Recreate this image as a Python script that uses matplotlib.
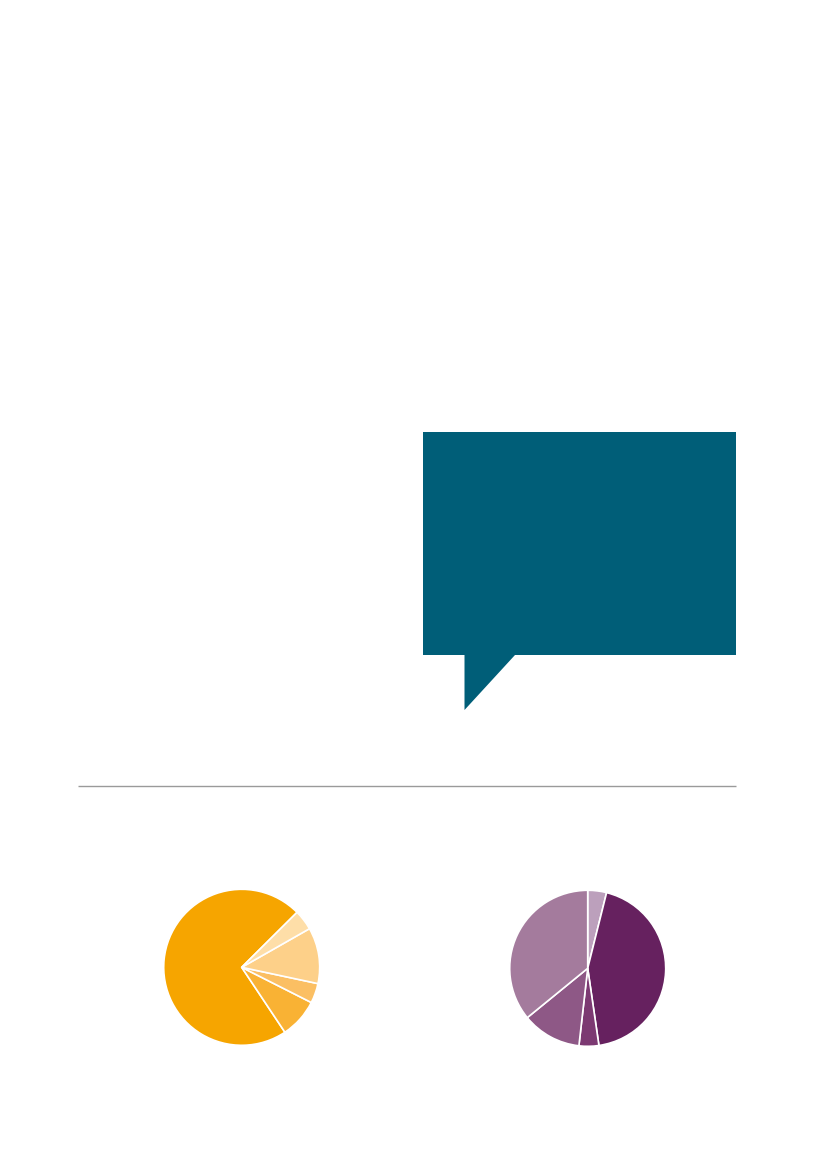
import matplotlib
matplotlib.use("Agg")
import matplotlib.pyplot as plt
from matplotlib.patches import Polygon

# ---- data ----
pie1_values = [71.9, 8.2, 4.1, 11.6, 4.2]
pie1_colors = ["#F6A500", "#F9B234", "#FBBF63", "#FDD089", "#FEDEA8"]

pie2_values = [3.9, 43.8, 4.1, 12.3, 35.9]
pie2_colors = ["#BCA0BC", "#66215F", "#7C3972", "#8E5886", "#A47B9D"]

W, H = 827, 1169
fig = plt.figure(figsize=(W / 100, H / 100), dpi=100)
fig.patch.set_facecolor("white")

# background axes in pixel coordinates
bg = fig.add_axes([0, 0, 1, 1])
bg.set_xlim(0, W)
bg.set_ylim(H, 0)
bg.axis("off")

# speech bubble
bubble = [(423, 432), (736, 432), (736, 655), (515, 655), (464.5, 710),
          (464.5, 655), (423, 655)]
bg.add_patch(Polygon(bubble, closed=True, facecolor="#005E78", edgecolor="none"))

# separator line
bg.plot([78, 736], [786, 786], color="#9A9A9A", linewidth=1.0, solid_capstyle="butt")


def pie_axes(cx, cy, r):
    return fig.add_axes([(cx - r) / W, 1 - (cy + r) / H, 2 * r / W, 2 * r / H])


ax1 = pie_axes(241.7, 967.3, 78)
ax1.pie(pie1_values, colors=pie1_colors, startangle=44.8, counterclock=True,
        radius=1, wedgeprops=dict(edgecolor="white", linewidth=1.2))
ax1.set_xlim(-1, 1)
ax1.set_ylim(-1, 1)
ax1.set_aspect("equal")
ax1.axis("off")

ax2 = pie_axes(587.7, 968.3, 78)
ax2.pie(pie2_values, colors=pie2_colors, startangle=90, counterclock=False,
        radius=1, wedgeprops=dict(edgecolor="white", linewidth=1.2))
ax2.set_xlim(-1, 1)
ax2.set_ylim(-1, 1)
ax2.set_aspect("equal")
ax2.axis("off")

fig.savefig("out.png", dpi=100, facecolor="white")
